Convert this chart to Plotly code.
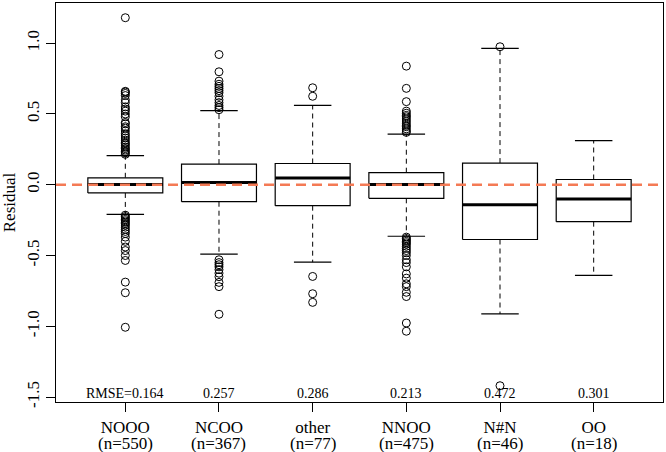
import plotly.graph_objects as go

categories = ["NOOO", "NCOO", "other", "NNOO", "N#N", "OO"]
counts = [550, 367, 77, 475, 46, 18]
rmse = [0.164, 0.257, 0.286, 0.213, 0.472, 0.301]

upper_whisker = [0.206, 0.523, 0.561, 0.357, 0.963, 0.312]
q3 = [0.049, 0.146, 0.150, 0.085, 0.153, 0.037]
median = [0.002, 0.016, 0.047, 0.002, -0.141, -0.101]
q1 = [-0.058, -0.120, -0.148, -0.096, -0.387, -0.261]
lower_whisker = [-0.209, -0.490, -0.547, -0.364, -0.913, -0.641]

outliers = [
    [1.18, 0.66, 0.655, 0.645, 0.63, 0.60, 0.58, 0.55, 0.535, 0.52, 0.50, 0.48,
     0.44, 0.43, 0.41, 0.40, 0.38, 0.36, 0.345, 0.33, 0.315, 0.30, 0.29, 0.28,
     0.265, 0.255, 0.245, 0.235, 0.225, 0.215,
     -0.215, -0.225, -0.235, -0.245, -0.255, -0.265, -0.275, -0.285, -0.30,
     -0.315, -0.33, -0.345, -0.37, -0.40, -0.44, -0.465, -0.50, -0.535,
     -0.688, -0.763, -1.007],
    [0.92, 0.798, 0.732, 0.71, 0.695, 0.68, 0.665, 0.65, 0.625, 0.60, 0.58,
     0.56, 0.545, 0.53,
     -0.53, -0.55, -0.565, -0.58, -0.60, -0.625, -0.65, -0.69, -0.72, -0.915],
    [0.685, 0.625, -0.648, -0.77, -0.831],
    [0.838, 0.681, 0.587, 0.52, 0.505, 0.49, 0.48, 0.465, 0.45, 0.435, 0.42,
     0.41, 0.395, 0.38, 0.37,
     -0.37, -0.38, -0.39, -0.40, -0.41, -0.42, -0.435, -0.45, -0.465, -0.48,
     -0.50, -0.53, -0.55, -0.58, -0.63, -0.66, -0.70, -0.72, -0.76, -0.79,
     -0.977, -1.035],
    [0.975, -1.42],
    [],
]

y_ticks = [-1.5, -1.0, -0.5, 0.0, 0.5, 1.0]
y_ticklabels = ["-1.5", "-1.0", "-0.5", "0.0", "0.5", "1.0"]

positions = list(range(1, len(categories) + 1))
half_box = 0.4
half_cap = 0.2
font_family = "Liberation Serif"

fig = go.Figure()

for i, pos in enumerate(positions):
    # whiskers (dashed)
    fig.add_trace(go.Scatter(
        x=[pos, pos, None, pos, pos],
        y=[q3[i], upper_whisker[i], None, q1[i], lower_whisker[i]],
        mode="lines", line=dict(color="black", width=1, dash="5px,4px"),
        hoverinfo="skip", showlegend=False))
    # caps
    fig.add_trace(go.Scatter(
        x=[pos - half_cap, pos + half_cap, None, pos - half_cap, pos + half_cap],
        y=[upper_whisker[i], upper_whisker[i], None, lower_whisker[i], lower_whisker[i]],
        mode="lines", line=dict(color="black", width=1.2),
        hoverinfo="skip", showlegend=False))
    # box
    fig.add_trace(go.Scatter(
        x=[pos - half_box, pos + half_box, pos + half_box, pos - half_box, pos - half_box],
        y=[q1[i], q1[i], q3[i], q3[i], q1[i]],
        mode="lines", line=dict(color="black", width=1.2),
        fill="toself", fillcolor="white",
        hoverinfo="skip", showlegend=False))
    # median
    fig.add_trace(go.Scatter(
        x=[pos - half_box, pos + half_box], y=[median[i], median[i]],
        mode="lines", line=dict(color="black", width=3),
        hoverinfo="skip", showlegend=False))
    # outliers
    if outliers[i]:
        fig.add_trace(go.Scatter(
            x=[pos] * len(outliers[i]), y=outliers[i], mode="markers",
            marker=dict(symbol="circle-open", size=8, color="black",
                        line=dict(width=1, color="black")),
            showlegend=False))

# zero reference line
fig.add_trace(go.Scatter(
    x=[0.26, 6.74], y=[0, 0], mode="lines",
    line=dict(color="#F47A55", width=2.5, dash="10px,6px"),
    hoverinfo="skip", showlegend=False))

# RMSE labels and counts
for i, pos in enumerate(positions):
    label = f"RMSE={rmse[i]:.3f}" if i == 0 else f"{rmse[i]:.3f}"
    fig.add_annotation(x=pos, y=-1.472, xref="x", yref="y", text=label,
                       showarrow=False, font=dict(family=font_family, size=14, color="black"),
                       xanchor="center", yanchor="middle")
    fig.add_annotation(x=pos, y=-0.1035, xref="x", yref="paper", text=f"(n={counts[i]})",
                       showarrow=False, font=dict(family=font_family, size=17, color="black"),
                       xanchor="center", yanchor="middle")

fig.update_layout(
    width=666, height=452,
    margin=dict(l=52, r=2, t=2, b=50),
    plot_bgcolor="white", paper_bgcolor="white",
    font=dict(family=font_family, color="black", size=17),
    showlegend=False,
    xaxis=dict(range=[0.26, 6.74], tickvals=positions, ticktext=categories,
               showline=True, linecolor="black", linewidth=1.2, mirror=True,
               ticks="outside", ticklen=9, tickcolor="black", tickwidth=1.2,
               showgrid=False, zeroline=False,
               tickfont=dict(family=font_family, size=17, color="black")),
    yaxis=dict(range=[-1.535, 1.284], tickvals=y_ticks, ticktext=y_ticklabels,
               tickangle=-90,
               showline=True, linecolor="black", linewidth=1.2, mirror=True,
               ticks="outside", ticklen=9, tickcolor="black", tickwidth=1.2,
               showgrid=False, zeroline=False,
               tickfont=dict(family=font_family, size=17, color="black"),
               title=dict(text="Residual", standoff=10,
                          font=dict(family=font_family, size=17, color="black"))),
)

fig.write_html("out.html", config={"displayModeBar": False},
               post_script="document.body.style.margin='0';")
